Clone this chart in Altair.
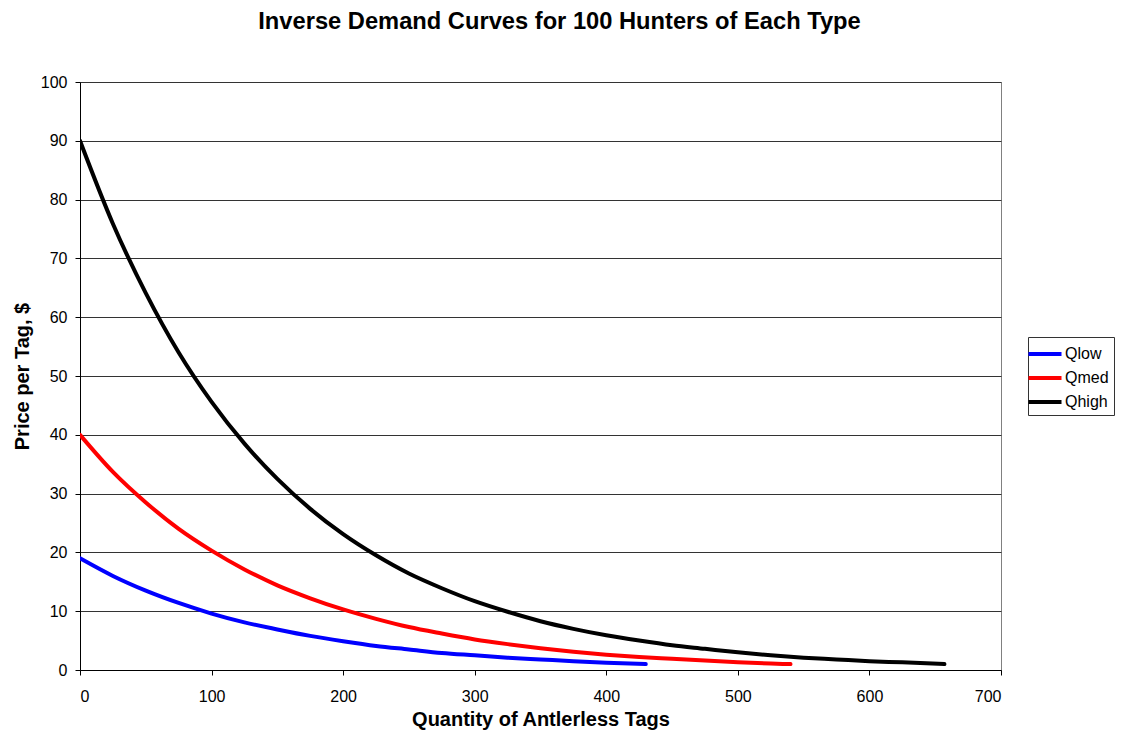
import altair as alt
import pandas as pd

# Quantities (tags) and prices
q_low = [0, 25, 50, 75, 100, 125, 150, 175, 200, 225, 250, 275, 300, 325, 350, 375, 400, 430]
p_low = [19.0, 16.0, 13.5, 11.4, 9.6, 8.1, 6.9, 5.8, 4.9, 4.1, 3.5, 2.9, 2.5, 2.1, 1.8, 1.5, 1.25, 1.0]

q_med = [0, 25, 50, 75, 100, 125, 150, 175, 200, 225, 250, 275, 300, 325, 350, 375, 400, 425, 450, 475, 500, 525, 540]
p_med = [40.0, 33.7, 28.5, 24.0, 20.3, 17.1, 14.4, 12.2, 10.3, 8.7, 7.3, 6.2, 5.2, 4.4, 3.7, 3.1, 2.6, 2.2, 1.9, 1.6, 1.3, 1.1, 1.0]

q_high = [0, 25, 50, 75, 100, 125, 150, 175, 200, 225, 250, 275, 300, 325, 350, 375, 400, 425, 450, 475, 500, 525, 550, 575, 600, 625, 657]
p_high = [90.0, 75.9, 64.1, 54.0, 45.6, 38.5, 32.5, 27.4, 23.1, 19.5, 16.4, 13.9, 11.7, 9.9, 8.3, 7.0, 5.9, 5.0, 4.2, 3.6, 3.0, 2.5, 2.1, 1.8, 1.5, 1.3, 1.0]

series_names = ["Qlow", "Qmed", "Qhigh"]
series_colors = ["#0000FF", "#FF0000", "#000000"]

rows = []
for name, qs, ps in [("Qlow", q_low, p_low), ("Qmed", q_med, p_med), ("Qhigh", q_high, p_high)]:
    for i, (q, p) in enumerate(zip(qs, ps)):
        rows.append({"series": name, "q": q, "p": p, "order": i})
df = pd.DataFrame(rows)

FONT = "Liberation Sans, Arial, Helvetica, sans-serif"

chart = alt.Chart(df).mark_line(
    strokeWidth=4, strokeCap="round", strokeJoin="round", interpolate="monotone", clip=True
).encode(
    x=alt.X("q:Q", title="Quantity of Antlerless Tags",
            scale=alt.Scale(domain=[0, 700], nice=False),
            axis=alt.Axis(values=[0, 100, 200, 300, 400, 500, 600, 700], grid=False,
                          tickSize=5, labelPadding=13, labelFontSize=16,
                          titleX=460.5, titleY=39, titleBaseline="top")),
    y=alt.Y("p:Q", title="Price per Tag, $",
            scale=alt.Scale(domain=[0, 100], nice=False),
            axis=alt.Axis(values=list(range(0, 101, 10)), grid=True,
                          tickSize=5, labelPadding=8, labelFontSize=16,
                          titleX=-48, titleY=294, titleBaseline="bottom", titleAngle=270)),
    color=alt.Color("series:N", sort=series_names,
                    scale=alt.Scale(domain=series_names, range=series_colors),
                    legend=alt.Legend(title=None, orient="none", legendX=948, legendY=255,
                                      symbolType="M-1.65,0H1.65", symbolSize=400,
                                      symbolStrokeWidth=4, labelFontSize=16, labelOffset=8,
                                      rowPadding=4, padding=5,
                                      strokeColor="#333333", fillColor="white")),
    order="order:Q",
).properties(
    width=921, height=588,
    title=alt.Title("Inverse Demand Curves for 100 Hunters of Each Type",
                    fontSize=23.7, fontWeight="bold", font=FONT, anchor="middle",
                    dx=19, offset=40),
    autosize=alt.AutoSizeParams(type="none"),
    padding={"left": 72, "top": 74, "right": 114, "bottom": 60},
).configure(
    font=FONT,
).configure_view(
    stroke="#808080", strokeWidth=1,
).configure_axis(
    labelFont=FONT, titleFont=FONT, labelColor="black", titleColor="black",
    titleFontSize=20, titleFontWeight="bold",
    domainColor="black", tickColor="black", gridColor="#333333",
    domainWidth=1, tickWidth=1, gridWidth=1,
).configure_legend(
    labelFont=FONT, labelColor="black",
)

chart.save("out.html", embed_options={"renderer": "svg", "actions": False})
